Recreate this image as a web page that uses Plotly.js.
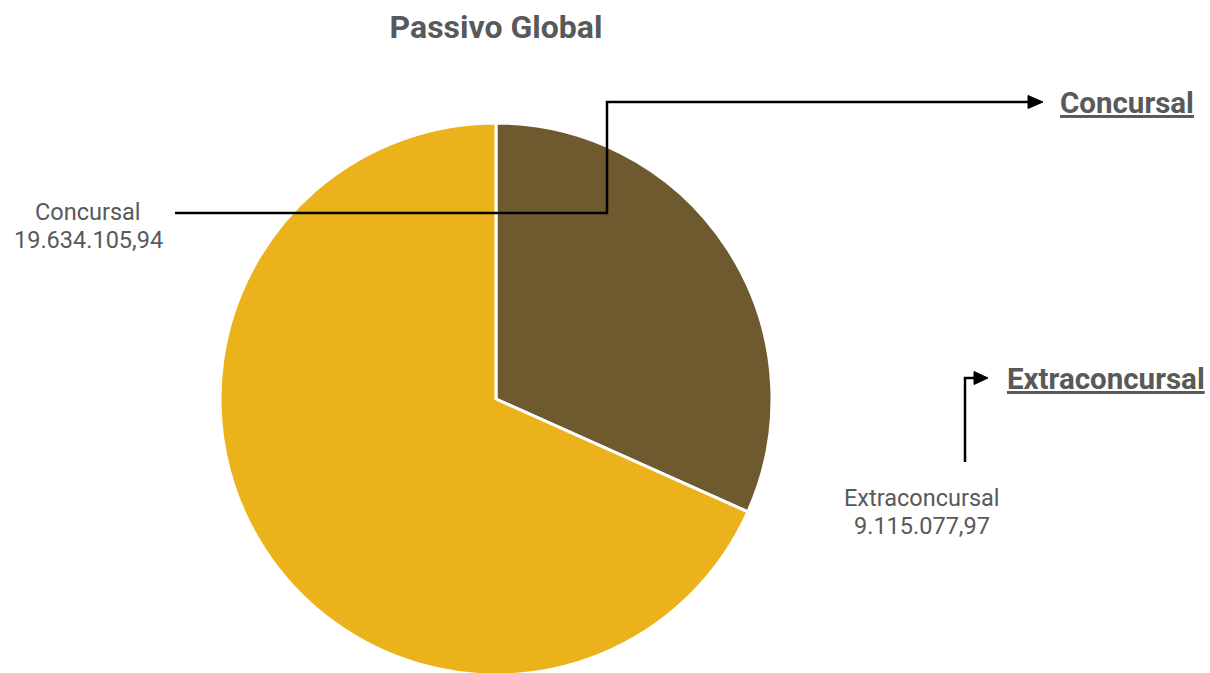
<!DOCTYPE html>
<html>
<head>
<meta charset="utf-8">
<script src="https://cdn.plot.ly/plotly-3.0.1.min.js"></script>
<style>
html,body{margin:0;padding:0;overflow:hidden;background:#fff;}
#chart{width:1210px;height:800px;}
</style>
</head>
<body>
<div id="chart"></div>
<script>
// Data
const categories = ['Extraconcursal', 'Concursal'];
const values = [9115077.97, 19634105.94];
const sliceColors = ['#6E5A2E', '#ECB21C'];
const chartTitle = 'Passivo Global';

// Layout helpers (pixel -> paper)
const W = 1210, H = 800;
const px = x => x / W;
const py = y => 1 - y / H;

function fmtBR(v) {
  const parts = v.toFixed(2).split('.');
  const intPart = parts[0].replace(/\B(?=(\d{3})+(?!\d))/g, '.');
  return intPart + ',' + parts[1];
}

const cx = 496, cy = 399, R = 276;

const trace = {
  type: 'pie',
  labels: categories,
  values: values,
  sort: false,
  direction: 'clockwise',
  rotation: 0,
  textinfo: 'none',
  hoverinfo: 'label+value',
  marker: { colors: sliceColors, line: { color: '#ffffff', width: 3 } },
  domain: { x: [px(cx - R), px(cx + R)], y: [py(cy + R), py(cy - R)] },
  showlegend: false
};

const txtColor = '#595959';
const font = 'Roboto, Arial, sans-serif';

// label positions (pixels): [x, y of name line, y of value line]
const dataLabelPos = { 'Concursal': [88, 212, 240], 'Extraconcursal': [922, 498, 526] };
const headerPos = { 'Concursal': [1127, 103], 'Extraconcursal': [1106, 379] };

const annotations = [];
categories.forEach((c, i) => {
  const p = dataLabelPos[c];
  annotations.push({
    xref: 'paper', yref: 'paper', x: px(p[0]), y: py(p[1]),
    xanchor: 'center', yanchor: 'middle', showarrow: false,
    text: c,
    font: { family: font, size: 23.5, color: txtColor }
  });
  annotations.push({
    xref: 'paper', yref: 'paper', x: px(p[0]), y: py(p[2]),
    xanchor: 'center', yanchor: 'middle', showarrow: false,
    text: fmtBR(values[i]),
    font: { family: font, size: 23.5, color: txtColor }
  });
  const h = headerPos[c];
  annotations.push({
    xref: 'paper', yref: 'paper', x: px(h[0]), y: py(h[1]),
    xanchor: 'center', yanchor: 'middle', showarrow: false,
    text: '<b><span style="text-decoration:underline">' + c + '</span></b>',
    font: { family: font, size: 29.5, color: txtColor }
  });
});

function path(points) {
  return 'M ' + points.map(p => px(p[0]) + ',' + py(p[1])).join(' L ');
}

const lineStyle = { color: '#000000', width: 2.5 };
const shapes = [
  { type: 'path', xref: 'paper', yref: 'paper',
    path: path([[175, 213], [607, 213], [607, 102], [1030, 102]]),
    line: lineStyle },
  { type: 'path', xref: 'paper', yref: 'paper',
    path: path([[1028, 95.5], [1043, 102], [1028, 108.5]]) + ' Z',
    fillcolor: '#000000', line: { color: '#000000', width: 1 } },
  { type: 'path', xref: 'paper', yref: 'paper',
    path: path([[965, 462], [965, 378], [976, 378]]),
    line: lineStyle },
  { type: 'path', xref: 'paper', yref: 'paper',
    path: path([[974, 371.5], [988, 378], [974, 384.5]]) + ' Z',
    fillcolor: '#000000', line: { color: '#000000', width: 1 } }
];

const layout = {
  width: W, height: H,
  margin: { l: 0, r: 0, t: 0, b: 0 },
  paper_bgcolor: '#ffffff',
  title: {
    text: '<b>' + chartTitle + '</b>',
    x: px(496), xanchor: 'center',
    y: py(27), yanchor: 'middle', yref: 'paper',
    font: { family: font, size: 32, color: txtColor }
  },
  annotations: annotations,
  shapes: shapes,
  showlegend: false
};

Plotly.newPlot('chart', [trace], layout, { displayModeBar: false, staticPlot: true });
</script>
</body>
</html>
